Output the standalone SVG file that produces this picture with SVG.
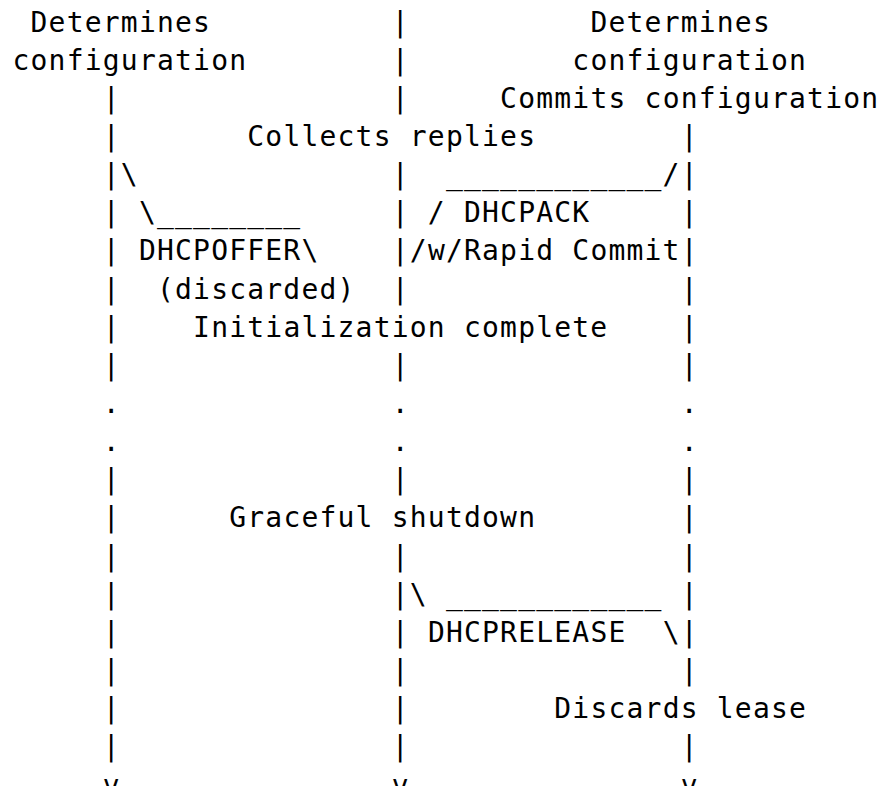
<svg xmlns="http://www.w3.org/2000/svg" width="884" height="786" viewBox="0 0 884 786">
<style>
text{font-family:"DejaVu Sans Mono","Liberation Mono",monospace;font-size:28px;letter-spacing:1.2px;fill:#000;white-space:pre}
</style>
<rect width="884" height="786" fill="#fff"/>
<g id="connectors">
<text x="391.76" y="31.5">|</text><text x="391.76" y="69.65">|</text>
<text x="102.8" y="107.8">|</text><text x="391.76" y="107.8">|</text>
<text x="102.8" y="145.95">|</text><text x="680.72" y="145.95">|</text>
<text x="102.8" y="184.1">|\</text><text x="391.76" y="184.1">|  ____________/|</text>
<text x="102.8" y="222.25">| \________</text><text x="391.76" y="222.25">| /</text><text x="680.72" y="222.25">|</text>
<text x="102.8" y="260.4">|</text><text x="301.46" y="260.4">\</text><text x="391.76" y="260.4">|/</text><text x="680.72" y="260.4">|</text>
<text x="102.8" y="298.55">|</text><text x="391.76" y="298.55">|</text><text x="680.72" y="298.55">|</text>
<text x="102.8" y="336.7">|</text><text x="680.72" y="336.7">|</text>
<text x="102.8" y="374.85">|</text><text x="391.76" y="374.85">|</text><text x="680.72" y="374.85">|</text>
<text x="102.8" y="413">.</text><text x="391.76" y="413">.</text><text x="680.72" y="413">.</text>
<text x="102.8" y="451.15">.</text><text x="391.76" y="451.15">.</text><text x="680.72" y="451.15">.</text>
<text x="102.8" y="489.3">|</text><text x="391.76" y="489.3">|</text><text x="680.72" y="489.3">|</text>
<text x="102.8" y="527.45">|</text><text x="680.72" y="527.45">|</text>
<text x="102.8" y="565.6">|</text><text x="391.76" y="565.6">|</text><text x="680.72" y="565.6">|</text>
<text x="102.8" y="603.75">|</text><text x="391.76" y="603.75">|\ ____________ |</text>
<text x="102.8" y="641.9">|</text><text x="391.76" y="641.9">|</text><text x="662.66" y="641.9">\|</text>
<text x="102.8" y="680.05">|</text><text x="391.76" y="680.05">|</text><text x="680.72" y="680.05">|</text>
<text x="102.8" y="718.2">|</text><text x="391.76" y="718.2">|</text>
<text x="102.8" y="756.35">|</text><text x="391.76" y="756.35">|</text><text x="680.72" y="756.35">|</text>
<text x="102.8" y="794.5">v</text><text x="391.76" y="794.5">v</text><text x="680.72" y="794.5">v</text>
</g>
<g id="left-determines"><text x="30.56" y="31.5">Determines</text><text x="12.5" y="69.65">configuration</text></g>
<g id="right-determines"><text x="590.42" y="31.5">Determines</text><text x="572.36" y="69.65">configuration</text></g>
<g id="commits"><text x="500.12" y="107.8">Commits configuration</text></g>
<g id="collects"><text x="247.28" y="145.95">Collects replies</text></g>
<g id="dhcpack"><text x="464" y="222.25">DHCPACK</text><text x="427.88" y="260.4">w/Rapid Commit</text></g>
<g id="dhcpoffer"><text x="138.92" y="260.4">DHCPOFFER</text><text x="156.98" y="298.55">(discarded)</text></g>
<g id="init-complete"><text x="193.1" y="336.7">Initialization complete</text></g>
<g id="graceful"><text x="229.22" y="527.45">Graceful shutdown</text></g>
<g id="dhcprelease"><text x="427.88" y="641.9">DHCPRELEASE</text></g>
<g id="discards"><text x="554.3" y="718.2">Discards lease</text></g>
</svg>
